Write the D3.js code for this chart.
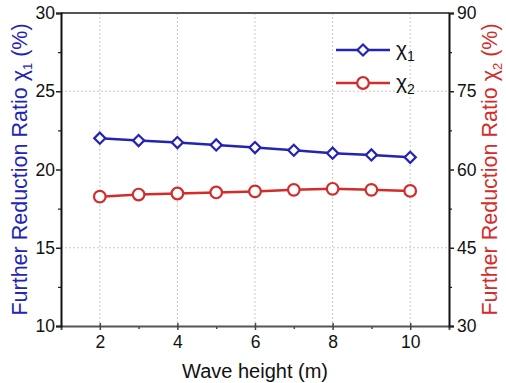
<!DOCTYPE html>
<html>
<head>
<meta charset="utf-8">
<script src="https://cdn.jsdelivr.net/npm/d3@7"></script>
<style>
  body { margin: 0; background: #fff; }
  text { font-family: "Liberation Sans", Arial, sans-serif; }
</style>
</head>
<body>
<div id="chart"></div>
<script>
// wave height (m)
const waveHeights = [2, 3, 4, 5, 6, 7, 8, 9, 10];
// chi1 on left axis (%)
const chi1 = [22.0, 21.85, 21.72, 21.57, 21.40, 21.23, 21.04, 20.93, 20.78];
// chi2 on right axis (%)
const chi2 = [54.8, 55.2, 55.4, 55.6, 55.8, 56.1, 56.3, 56.1, 55.9];

const xTicks = [2, 4, 6, 8, 10];
const yLeftTicks = [10, 15, 20, 25, 30];
const yRightTicks = [30, 45, 60, 75, 90];

const width = 506, height = 383;
const margin = { left: 61, right: 57, top: 13, bottom: 57 };
const w = width - margin.left - margin.right;
const h = height - margin.top - margin.bottom;

const blue = '#2323b4';
const red = '#d42b2b';

const svg = d3.select('#chart').append('svg')
  .attr('width', width)
  .attr('height', height);

const g = svg.append('g')
  .attr('transform', 'translate(' + margin.left + ',' + margin.top + ')');

const x = d3.scaleLinear().domain([1, 11]).range([0, w]);
const yL = d3.scaleLinear().domain([10, 30]).range([h, 0]);
const yR = d3.scaleLinear().domain([30, 90]).range([h, 0]);

// grid lines
g.selectAll('.vgrid')
  .data(xTicks)
  .enter()
  .append('line')
  .attr('x1', d => x(d)).attr('x2', d => x(d))
  .attr('y1', 0).attr('y2', h)
  .attr('stroke', '#c8c8c8')
  .attr('stroke-width', 1)
  .attr('stroke-dasharray', '2,2');

g.selectAll('.hgrid')
  .data([15, 25])
  .enter()
  .append('line')
  .attr('x1', 0).attr('x2', w)
  .attr('y1', d => yL(d)).attr('y2', d => yL(d))
  .attr('stroke', '#c8c8c8')
  .attr('stroke-width', 1)
  .attr('stroke-dasharray', '2,2');

// axes
const tickFont = '17.5px';

// bottom axis
g.append('g')
  .attr('transform', 'translate(0,' + h + ')')
  .call(d3.axisBottom(x).tickValues([3, 5, 7, 9]).tickSize(3).tickFormat(''))
  .call(a => a.select('.domain').remove())
  .call(a => a.selectAll('line').attr('stroke', '#444').attr('stroke-width', 1.5));

g.append('g')
  .attr('transform', 'translate(0,' + h + ')')
  .call(d3.axisBottom(x).tickValues(xTicks).tickSize(4).tickPadding(6))
  .call(a => a.select('.domain').attr('stroke', '#555').attr('stroke-width', 2))
  .call(a => a.selectAll('.tick line').attr('y1', -3).attr('stroke', '#444').attr('stroke-width', 1.5))
  .call(a => a.selectAll('.tick text').style('font-size', tickFont).attr('fill', '#111'));

// top frame
g.append('line')
  .attr('x1', 0).attr('x2', w)
  .attr('y1', 0).attr('y2', 0)
  .attr('stroke', '#555').attr('stroke-width', 2);

// left axis
g.append('g')
  .call(d3.axisLeft(yL).tickValues([12.5, 17.5, 22.5, 27.5]).tickSize(3).tickFormat(''))
  .call(a => a.select('.domain').remove())
  .call(a => a.selectAll('line').attr('stroke', '#222').attr('stroke-width', 1.2));

g.append('g')
  .call(d3.axisLeft(yL).tickValues(yLeftTicks).tickSize(5).tickPadding(1))
  .call(a => a.select('.domain').attr('stroke', '#111').attr('stroke-width', 2))
  .call(a => a.selectAll('.tick line').attr('stroke', '#222').attr('stroke-width', 1.5))
  .call(a => a.selectAll('.tick text').style('font-size', tickFont).attr('fill', '#111'));

// right axis
g.append('g')
  .attr('transform', 'translate(' + w + ',0)')
  .call(d3.axisRight(yR).tickValues([37.5, 52.5, 67.5, 82.5]).tickSize(3).tickFormat(''))
  .call(a => a.select('.domain').remove())
  .call(a => a.selectAll('line').attr('stroke', '#222').attr('stroke-width', 1.2));

g.append('g')
  .attr('transform', 'translate(' + w + ',0)')
  .call(d3.axisRight(yR).tickValues(yRightTicks).tickSize(5).tickPadding(3))
  .call(a => a.select('.domain').attr('stroke', '#111').attr('stroke-width', 2))
  .call(a => a.selectAll('.tick line').attr('stroke', '#222').attr('stroke-width', 1.5))
  .call(a => a.selectAll('.tick text').style('font-size', tickFont).attr('fill', '#111'));

// axis titles
svg.append('text')
  .attr('x', width / 2 + 2)
  .attr('y', height - 5)
  .attr('text-anchor', 'middle')
  .style('font-size', '20px')
  .attr('fill', '#111')
  .text('Wave height (m)');

const leftTitle = svg.append('text')
  .attr('transform', 'translate(27,' + (margin.top + h / 2) + ') rotate(-90)')
  .attr('text-anchor', 'middle')
  .style('font-size', '21.5px')
  .attr('fill', blue);
leftTitle.append('tspan').text('Further Reduction Ratio χ');
leftTitle.append('tspan').attr('dy', 5).style('font-size', '13px').text('1');
leftTitle.append('tspan').attr('dy', -5).text(' (%)');

const rightTitle = svg.append('text')
  .attr('transform', 'translate(497,' + (margin.top + h / 2) + ') rotate(-90)')
  .attr('text-anchor', 'middle')
  .style('font-size', '21.5px')
  .attr('fill', red);
rightTitle.append('tspan').text('Further Reduction Ratio χ');
rightTitle.append('tspan').attr('dy', 5).style('font-size', '13px').text('2');
rightTitle.append('tspan').attr('dy', -5).text(' (%)');

// series
const line1 = d3.line().x((d, i) => x(waveHeights[i])).y(d => yL(d));
const line2 = d3.line().x((d, i) => x(waveHeights[i])).y(d => yR(d));

g.append('path')
  .attr('d', line1(chi1))
  .attr('fill', 'none')
  .attr('stroke', blue)
  .attr('stroke-width', 2.5);

g.append('path')
  .attr('d', line2(chi2))
  .attr('fill', 'none')
  .attr('stroke', red)
  .attr('stroke-width', 2.5);

const diamond = d3.symbol().type(d3.symbolSquare).size(62);

g.selectAll('.pt1')
  .data(chi1)
  .enter()
  .append('path')
  .attr('d', diamond)
  .attr('transform', (d, i) => 'translate(' + x(waveHeights[i]) + ',' + yL(d) + ') rotate(45)')
  .attr('fill', '#fff')
  .attr('stroke', blue)
  .attr('stroke-width', 2.2);

g.selectAll('.pt2')
  .data(chi2)
  .enter()
  .append('circle')
  .attr('cx', (d, i) => x(waveHeights[i]))
  .attr('cy', d => yR(d))
  .attr('r', 5.8)
  .attr('fill', '#fff')
  .attr('stroke', red)
  .attr('stroke-width', 2.2);

// legend
const legend = [
  { name: '1', color: blue, shape: 'diamond', y: 50 },
  { name: '2', color: red, shape: 'circle', y: 83 }
];

legend.forEach(l => {
  svg.append('line')
    .attr('x1', 336).attr('x2', 390)
    .attr('y1', l.y).attr('y2', l.y)
    .attr('stroke', l.color).attr('stroke-width', 2.5);
  if (l.shape === 'diamond') {
    svg.append('path')
      .attr('d', diamond)
      .attr('transform', 'translate(363,' + l.y + ') rotate(45)')
      .attr('fill', '#fff').attr('stroke', l.color).attr('stroke-width', 2.2);
  } else {
    svg.append('circle')
      .attr('cx', 363).attr('cy', l.y).attr('r', 5.8)
      .attr('fill', '#fff').attr('stroke', l.color).attr('stroke-width', 2.2);
  }
  const t = svg.append('text')
    .attr('x', 396).attr('y', l.y + 6)
    .style('font-size', '21px')
    .attr('fill', '#111');
  t.append('tspan').text('χ');
  t.append('tspan').attr('dy', 5).style('font-size', '14px').text(l.name);
});
</script>
</body>
</html>
